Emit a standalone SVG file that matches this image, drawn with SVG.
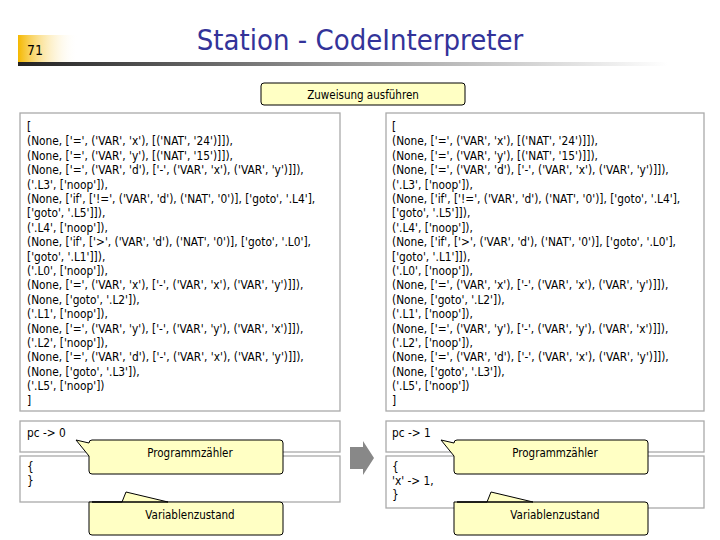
<svg xmlns="http://www.w3.org/2000/svg" width="720" height="540" viewBox="0 0 720 540">
<defs>
<linearGradient id="og" x1="0" x2="1"><stop offset="0" stop-color="#f5b800"/><stop offset="1" stop-color="#fff" stop-opacity="0"/></linearGradient>
<linearGradient id="lg" x1="0" x2="1"><stop offset="0" stop-color="#222"/><stop offset="0.5" stop-color="#999"/><stop offset="1" stop-color="#fff"/></linearGradient>
<style>
.c{font-family:"DejaVu Sans Condensed","Liberation Sans",sans-serif;font-size:11.8px;fill:#000}
.b{fill:#fff;stroke:#aaa;stroke-width:1.3}
.y{fill:#ffffc4;stroke:#000;stroke-width:1}
.t{font-family:"DejaVu Sans Condensed","Liberation Sans",sans-serif;font-size:11.5px;text-anchor:middle}
</style>
</defs>
<rect width="720" height="540" fill="#fff"/>
<g id="header">
<rect x="18" y="35" width="60" height="27" fill="url(#og)"/>
<text x="27" y="55" font-family="DejaVu Sans Condensed,sans-serif" font-size="14">71</text>
<rect x="18" y="62" width="650" height="4" fill="url(#lg)"/>
<text x="360" y="50" text-anchor="middle" font-family="DejaVu Sans Condensed,sans-serif" font-size="29" fill="#333399">Station - CodeInterpreter</text>
</g>
<g id="action"><rect class="y" x="261" y="83" width="204" height="22" rx="3"/><text class="t" x="363" y="99">Zuweisung ausführen</text></g>
<g id="codeL"><rect class="b" x="20" y="113" width="320" height="298"/>
<text class="c">
<tspan x="27" y="131">[</tspan>
<tspan x="27" y="145.4">(None, ['=', ('VAR', 'x'), [('NAT', '24')]]),</tspan>
<tspan x="27" y="159.8">(None, ['=', ('VAR', 'y'), [('NAT', '15')]]),</tspan>
<tspan x="27" y="174.2">(None, ['=', ('VAR', 'd'), ['-', ('VAR', 'x'), ('VAR', 'y')]]),</tspan>
<tspan x="27" y="188.6">('.L3', ['noop']),</tspan>
<tspan x="27" y="203">(None, ['if', ['!=', ('VAR', 'd'), ('NAT', '0')], ['goto', '.L4'],</tspan>
<tspan x="27" y="217.4">['goto', '.L5']]),</tspan>
<tspan x="27" y="231.8">('.L4', ['noop']),</tspan>
<tspan x="27" y="246.2">(None, ['if', ['&gt;', ('VAR', 'd'), ('NAT', '0')], ['goto', '.L0'],</tspan>
<tspan x="27" y="260.6">['goto', '.L1']]),</tspan>
<tspan x="27" y="275">('.L0', ['noop']),</tspan>
<tspan x="27" y="289.4">(None, ['=', ('VAR', 'x'), ['-', ('VAR', 'x'), ('VAR', 'y')]]),</tspan>
<tspan x="27" y="303.8">(None, ['goto', '.L2']),</tspan>
<tspan x="27" y="318.2">('.L1', ['noop']),</tspan>
<tspan x="27" y="332.6">(None, ['=', ('VAR', 'y'), ['-', ('VAR', 'y'), ('VAR', 'x')]]),</tspan>
<tspan x="27" y="347">('.L2', ['noop']),</tspan>
<tspan x="27" y="361.4">(None, ['=', ('VAR', 'd'), ['-', ('VAR', 'x'), ('VAR', 'y')]]),</tspan>
<tspan x="27" y="375.8">(None, ['goto', '.L3']),</tspan>
<tspan x="27" y="390.2">('.L5', ['noop'])</tspan>
<tspan x="27" y="404.6">]</tspan>
</text></g>
<g id="codeR"><rect class="b" x="386" y="113" width="318" height="298"/>
<text class="c">
<tspan x="392" y="131">[</tspan>
<tspan x="392" y="145.4">(None, ['=', ('VAR', 'x'), [('NAT', '24')]]),</tspan>
<tspan x="392" y="159.8">(None, ['=', ('VAR', 'y'), [('NAT', '15')]]),</tspan>
<tspan x="392" y="174.2">(None, ['=', ('VAR', 'd'), ['-', ('VAR', 'x'), ('VAR', 'y')]]),</tspan>
<tspan x="392" y="188.6">('.L3', ['noop']),</tspan>
<tspan x="392" y="203">(None, ['if', ['!=', ('VAR', 'd'), ('NAT', '0')], ['goto', '.L4'],</tspan>
<tspan x="392" y="217.4">['goto', '.L5']]),</tspan>
<tspan x="392" y="231.8">('.L4', ['noop']),</tspan>
<tspan x="392" y="246.2">(None, ['if', ['&gt;', ('VAR', 'd'), ('NAT', '0')], ['goto', '.L0'],</tspan>
<tspan x="392" y="260.6">['goto', '.L1']]),</tspan>
<tspan x="392" y="275">('.L0', ['noop']),</tspan>
<tspan x="392" y="289.4">(None, ['=', ('VAR', 'x'), ['-', ('VAR', 'x'), ('VAR', 'y')]]),</tspan>
<tspan x="392" y="303.8">(None, ['goto', '.L2']),</tspan>
<tspan x="392" y="318.2">('.L1', ['noop']),</tspan>
<tspan x="392" y="332.6">(None, ['=', ('VAR', 'y'), ['-', ('VAR', 'y'), ('VAR', 'x')]]),</tspan>
<tspan x="392" y="347">('.L2', ['noop']),</tspan>
<tspan x="392" y="361.4">(None, ['=', ('VAR', 'd'), ['-', ('VAR', 'x'), ('VAR', 'y')]]),</tspan>
<tspan x="392" y="375.8">(None, ['goto', '.L3']),</tspan>
<tspan x="392" y="390.2">('.L5', ['noop'])</tspan>
<tspan x="392" y="404.6">]</tspan>
</text></g>
<g id="pcL"><rect class="b" x="20" y="421" width="320" height="31"/><text class="c" x="27" y="437">pc -&gt; 0</text></g>
<g id="stL"><rect class="b" x="20" y="456" width="320" height="46"/><text class="c"><tspan x="27" y="471">{</tspan><tspan x="27" y="485">}</tspan></text></g>
<g id="pcR"><rect class="b" x="386" y="421" width="318" height="31"/><text class="c" x="392" y="437">pc -&gt; 1</text></g>
<g id="stR"><rect class="b" x="386" y="456" width="318" height="52"/><text class="c"><tspan x="392" y="471">{</tspan><tspan x="392" y="485">'x' -&gt; 1,</tspan><tspan x="392" y="499">}</tspan></text></g>
<g id="connectors">
<path d="M350 447 H363 V441 L374 458 L363 475 V469 H350 Z" fill="#888"/>
</g>
<g id="calloutPcL"><path class="y" d="M92 440 H280 Q283 440 283 443 V471 Q283 474 280 474 H92 Q89 474 89 471 V456 L76 440 L89 443 Q89 440 92 440 Z"/><text class="t" x="190" y="457">Programmzähler</text></g>
<g id="calloutStL"><path class="y" d="M92 502 H168 L126 492 L122 502 H89 V532 Q89 535 92 535 H280 Q283 535 283 532 V505 Q283 502 280 502 Z"/><text class="t" x="190" y="519">Variablenzustand</text></g>
<g id="calloutPcR"><path class="y" d="M457 440 H645 Q648 440 648 443 V471 Q648 474 645 474 H457 Q454 474 454 471 V456 L441 440 L454 443 Q454 440 457 440 Z"/><text class="t" x="555" y="457">Programmzähler</text></g>
<g id="calloutStR"><path class="y" d="M457 502 H533 L491 492 L487 502 H454 V532 Q454 535 457 535 H645 Q648 535 648 532 V505 Q648 502 645 502 Z"/><text class="t" x="555" y="519">Variablenzustand</text></g>
</svg>
